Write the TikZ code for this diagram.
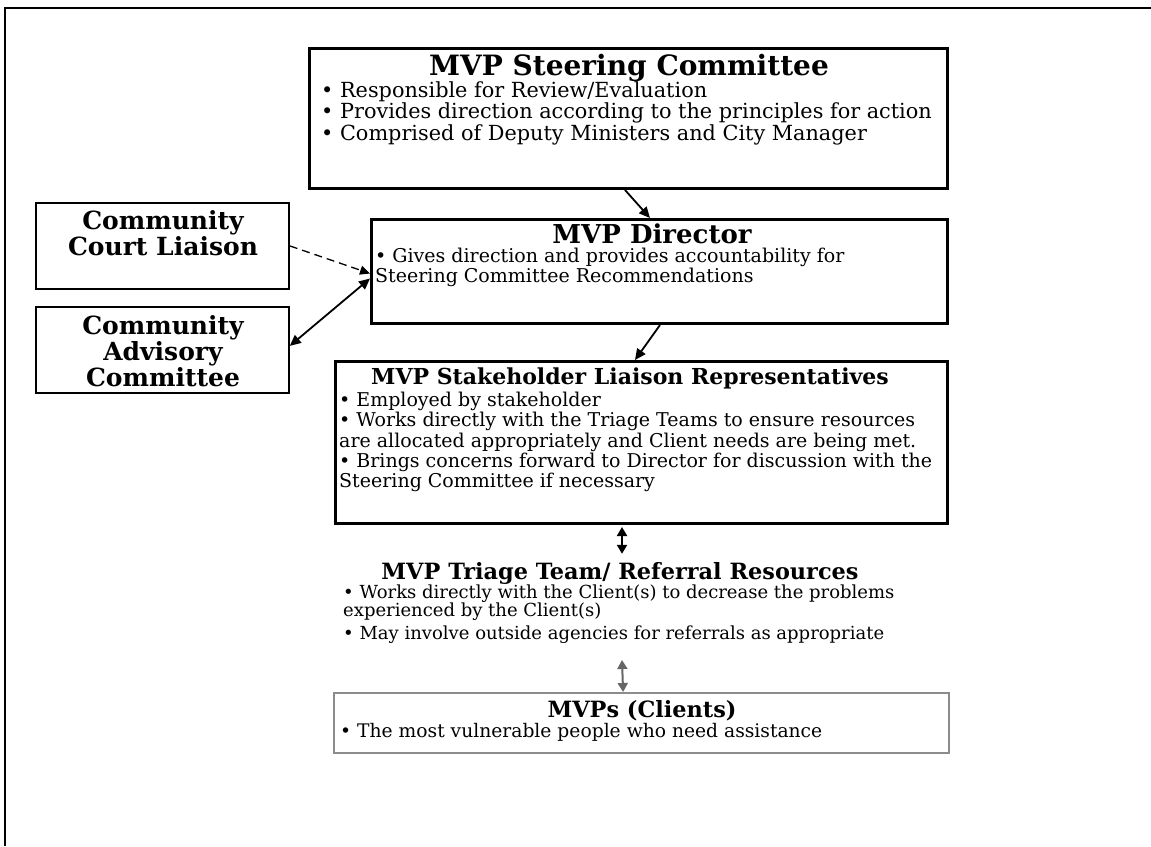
\documentclass[tikz,border=0pt]{standalone}
\usepackage{fontspec}
\setmainfont{DejaVu Serif}
\usetikzlibrary{arrows.meta}
\begin{document}
\begin{tikzpicture}[x=1pt,y=-1pt,
  bigbox/.style={draw, line width=3pt, rectangle, anchor=north west, inner sep=0pt},
  sidebox/.style={draw, line width=1.8pt, rectangle, anchor=north west, inner sep=0pt},
  clientbox/.style={draw=black!45, line width=2.2pt, rectangle, anchor=north west, inner sep=0pt},
  ttl/.style={font=\bfseries\fontsize{22.4}{26}\selectfont, inner sep=0pt},
  sidetxt/.style={font=\bfseries\fontsize{25}{26}\selectfont, align=center, inner sep=0pt},
  body/.style={font=\fontsize{19}{21}\selectfont, align=left, anchor=north west, inner sep=0pt},
  arr/.style={-{Triangle[length=11pt,width=10pt]}, line width=1.8pt}]
\useasboundingbox (0,0) rectangle (1151,846);
\fill[white] (0,0) rectangle (1151,846);
% outer frame
\draw[line width=2pt] (5,846) -- (5,8) -- (1151,8);

% Steering committee
\node[bigbox, minimum width=638pt, minimum height=140pt] (steer) at (308,47) {};
\node[ttl, font=\bfseries\fontsize{28}{32}\selectfont] (steerT) at (629,68) {MVP Steering Committee};
\node[body, font=\fontsize{20.8}{21.5}\selectfont] (steerB) at (321,81) {• Responsible for Review/Evaluation\\• Provides direction according to the principles for action\\• Comprised of Deputy Ministers and City Manager};

% Director
\node[bigbox, minimum width=576pt, minimum height=104pt] (dir) at (370,218) {};
\node[ttl, font=\bfseries\fontsize{26}{30}\selectfont] (dirT) at (652,234) {MVP Director};
\node[body, font=\fontsize{19}{19.5}\selectfont] (dirB) at (375,248) {• Gives direction and provides accountability for\\Steering Committee Recommendations};

% Community boxes
\node[sidebox, minimum width=253pt, minimum height=86pt] (court) at (35,202) {};
\node[sidetxt] (courtT) at (163,233) {Community\\Court Liaison};
\node[sidebox, minimum width=253pt, minimum height=86pt] (adv) at (35,306) {};
\node[sidetxt] (advT) at (163,351) {Community\\Advisory\\Committee};

% Stakeholder
\node[bigbox, minimum width=612pt, minimum height=162pt] (stake) at (334,360) {};
\node[ttl, font=\bfseries\fontsize{22}{26}\selectfont] (stakeT) at (630,378) {MVP Stakeholder Liaison Representatives};
\node[body, font=\fontsize{19}{20.3}\selectfont] (stakeB) at (339,392) {• Employed by stakeholder\\• Works directly with the Triage Teams to ensure resources\\are allocated appropriately and Client needs are being met.\\• Brings concerns forward to Director for discussion with the\\Steering Committee if necessary};

% Triage (no box)
\node[ttl] (triT) at (620,573) {MVP Triage Team/ Referral Resources};
\node[body, font=\fontsize{18}{18}\selectfont] (triB) at (343,585) {• Works directly with the Client(s) to decrease the problems\\experienced by the Client(s)\\[5pt]• May involve outside agencies for referrals as appropriate};

% Clients
\node[clientbox, minimum width=615pt, minimum height=60pt] (mvp) at (333,692) {};
\node[ttl] (mvpT) at (642,711) {MVPs (Clients)};
\node[body, font=\fontsize{18.7}{20}\selectfont] (mvpB) at (340,723) {• The most vulnerable people who need assistance};

% connectors
\draw[arr] ([xshift=317pt]steer.south west) -- ([xshift=280pt]dir.north west);
\draw[arr] ([xshift=290pt]dir.south west) -- ([xshift=301pt]stake.north west);
\draw[-{Triangle[length=10pt,width=9pt]}, line width=1.3pt, dash pattern=on 8pt off 5pt] (court.east) -- ([yshift=-2pt]dir.west);
\draw[{Triangle[length=11pt,width=10pt]}-{Triangle[length=11pt,width=10pt]}, line width=1.8pt] ([yshift=-7pt]dir.west) -- ([yshift=4pt]adv.east);
\coordinate (v1top) at (622,527);
\draw[{Triangle[length=9pt,width=10pt]}-{Triangle[length=9pt,width=10pt]}, line width=2pt] (v1top) -- ([xshift=2pt,yshift=8pt]triT.north);
\coordinate (v2top) at (622,660);
\draw[{Triangle[length=9pt,width=10pt]}-{Triangle[length=9pt,width=10pt]}, line width=2pt, black!60] (v2top) -- ([xshift=-18.5pt]mvp.north);
\end{tikzpicture}
\end{document}
